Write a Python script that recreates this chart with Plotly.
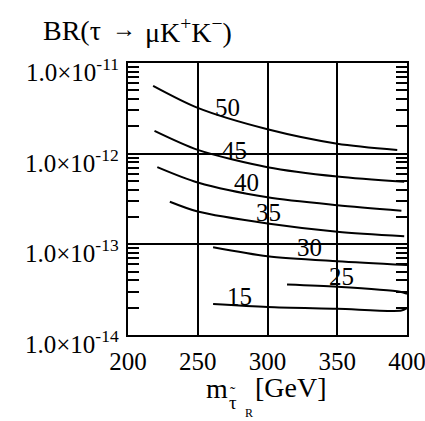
import math
import plotly.graph_objects as go

# ---- data ----
curve_names = ["50", "45", "40", "35", "30", "25", "15"]
m_50 = [218, 250, 300, 350, 393]
br_50 = [5.6e-12, 3.2e-12, 1.86e-12, 1.29e-12, 1.10e-12]
m_45 = [219, 250, 300, 350, 398]
br_45 = [1.78e-12, 1.10e-12, 7.1e-13, 5.6e-13, 4.9e-13]
m_40 = [221, 250, 300, 350, 396]
br_40 = [7.1e-13, 4.8e-13, 3.3e-13, 2.7e-13, 2.35e-13]
m_35 = [230, 250, 300, 350, 398]
br_35 = [2.95e-13, 2.3e-13, 1.7e-13, 1.38e-13, 1.23e-13]
m_30 = [261, 300, 350, 400]
br_30 = [9.3e-14, 7.4e-14, 6.5e-14, 5.9e-14]
m_25 = [314, 350, 395, 400]
br_25 = [3.6e-14, 3.4e-14, 3.0e-14, 2.85e-14]
m_15 = [261, 300, 350, 396, 400]
br_15 = [2.2e-14, 2.04e-14, 1.95e-14, 1.86e-14, 1.98e-14]

x_tickvals = [200, 250, 300, 350, 400]
x_ticktext = ["200", "250", "300", "350", "400"]
y_tickvals = [1e-14, 1e-13, 1e-12, 1e-11]
y_ticktext = ["1.0×10<sup>-14</sup>", "1.0×10<sup>-13</sup>",
              "1.0×10<sup>-12</sup>", "1.0×10<sup>-11</sup>"]

curves = [(m_50, br_50), (m_45, br_45), (m_40, br_40), (m_35, br_35),
          (m_30, br_30), (m_25, br_25), (m_15, br_15)]

# label anchor positions (layout)
label_m = [271, 276, 285, 301, 330, 353, 280]
label_logbr = [-11.49, -11.96, -12.32, -12.65, -13.04, -13.36, -13.58]

FONT = "Liberation Serif, Times New Roman, serif"
W, H = 425, 421
L, R, T, B = 128, 18, 63, 86
PW, PH = W - L - R, H - T - B


def px_x(px):
    return (px - L) / PW


def px_y(py):
    return (H - B - py) / PH


fig = go.Figure()
for (mx, by), name in zip(curves, curve_names):
    fig.add_trace(go.Scatter(x=mx, y=by, mode="lines", name=name,
                             line=dict(color="black", width=2, shape="spline", smoothing=0.8),
                             showlegend=False, hoverinfo="skip"))

annotations = []
for name, lm, lb in zip(curve_names, label_m, label_logbr):
    annotations.append(dict(x=lm, y=lb, xref="x", yref="y", text=name, showarrow=False,
                            font=dict(family=FONT, size=25, color="black"),
                            xanchor="center", yanchor="middle"))

# y tick labels as annotations (offset downward like the reference)
for v, t in zip(y_tickvals, y_ticktext):
    annotations.append(dict(x=0, y=math.log10(v), xref="paper", yref="y", text=t,
                            showarrow=False, xanchor="right", yanchor="middle",
                            xshift=-7, yshift=-7,
                            font=dict(family=FONT, size=25, color="black")))


def pix_text(text, px, py, size, xanchor="center"):
    annotations.append(dict(x=px_x(px), y=px_y(py), xref="paper", yref="paper",
                            text=text, showarrow=False, xanchor=xanchor,
                            yanchor="middle",
                            font=dict(family=FONT, size=size, color="black")))


# title, in pieces to match the wide spacing of the reference
pix_text("BR(τ", 41, 30, 28, "left")
pix_text("→", 124, 29, 24)
pix_text("μK<sup>+</sup>K<sup>−</sup>)", 143, 30, 28, "left")

# x axis title
pix_text("m", 217, 388, 28)
pix_text("τ", 233, 402, 19)
pix_text("˜", 233, 392, 16)
pix_text("R", 249, 413, 12)
pix_text("[GeV]", 253, 387, 28, "left")

minor_vals = [k * 10.0 ** e for e in (-14, -13, -12) for k in range(2, 10)]

fig.update_layout(
    width=W, height=H,
    margin=dict(l=L, r=R, t=T, b=B, autoexpand=False),
    paper_bgcolor="white", plot_bgcolor="white",
    annotations=annotations,
    xaxis=dict(range=[200, 400], tickvals=x_tickvals, ticktext=x_ticktext,
               showgrid=True, gridcolor="black", gridwidth=1.5,
               showline=True, linecolor="black", linewidth=2, mirror=True,
               ticks="", zeroline=False, automargin=False,
               ticklabeloverflow="allow",
               tickfont=dict(family=FONT, size=25, color="black"),
               ticklabelstandoff=3),
    yaxis=dict(type="log", range=[-14, -11], tickvals=y_tickvals,
               showticklabels=False,
               showgrid=True, gridcolor="black", gridwidth=1.5,
               showline=True, linecolor="black", linewidth=2, mirror="allticks",
               ticks="", zeroline=False, automargin=False,
               minor=dict(tickvals=minor_vals, ticks="inside", ticklen=11,
                          tickwidth=1.5, tickcolor="black", showgrid=False)),
)

fig.write_html("out.html")
